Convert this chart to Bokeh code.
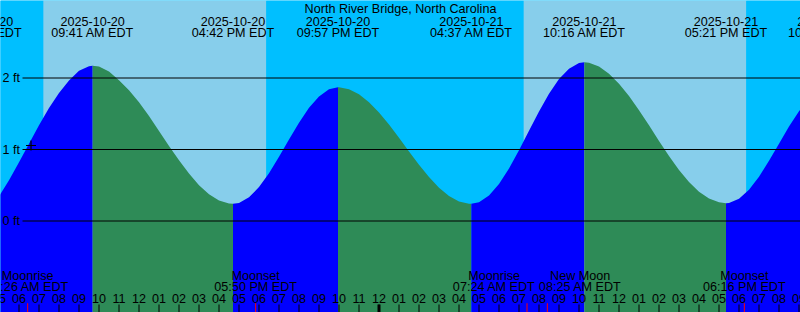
from bokeh.plotting import figure
from bokeh.models import Range1d
from bokeh.embed import file_html
from bokeh.resources import INLINE
from bokeh.core.properties import value

# ---------------- data (hours since 2025-10-20 00:00 EDT, heights in ft) ----------------
title = "North River Bridge, North Carolina"

sample_t = [5.0, 5.5, 6.0, 6.5, 7.0, 7.5, 8.0, 8.5, 9.0, 9.5, 9.683,
            10.0, 10.5, 11.0, 11.5, 12.0, 12.5, 13.0, 13.5, 14.0, 14.5, 15.0, 15.5, 16.0, 16.5, 16.7,
            17.0, 17.5, 18.0, 18.5, 19.0, 19.5, 20.0, 20.5, 21.0, 21.5, 21.95,
            22.0, 22.5, 23.0, 23.5, 24.0, 24.5, 25.0, 25.5, 26.0, 26.5, 27.0, 27.5, 28.0, 28.5, 28.617,
            29.0, 29.5, 30.0, 30.5, 31.0, 31.5, 32.0, 32.5, 33.0, 33.5, 34.0, 34.267,
            34.5, 35.0, 35.5, 36.0, 36.5, 37.0, 37.5, 38.0, 38.5, 39.0, 39.5, 40.0, 40.5, 41.0, 41.35,
            41.5, 42.0, 42.5, 43.0, 43.5, 44.0, 44.5, 45.0, 45.5]
sample_h = [0.345, 0.57, 0.82, 1.08, 1.34, 1.58, 1.79, 1.965, 2.10, 2.163, 2.17,
            2.16, 2.09, 1.97, 1.83, 1.66, 1.47, 1.26, 1.05, 0.85, 0.665, 0.50, 0.375, 0.287, 0.244, 0.24,
            0.253, 0.332, 0.474, 0.669, 0.897, 1.140, 1.375, 1.583, 1.742, 1.841, 1.87,
            1.870, 1.843, 1.772, 1.662, 1.519, 1.349, 1.164, 0.972, 0.785, 0.614, 0.465, 0.350, 0.274, 0.241, 0.24,
            0.262, 0.357, 0.519, 0.735, 0.989, 1.262, 1.533, 1.779, 1.985, 2.131, 2.209, 2.22,
            2.215, 2.16, 2.06, 1.92, 1.75, 1.55, 1.34, 1.12, 0.91, 0.715, 0.545, 0.41, 0.315, 0.262, 0.25,
            0.253, 0.312, 0.438, 0.620, 0.842, 1.082, 1.320, 1.534, 1.701]

tide_t = [4.1, 9.683, 16.7, 21.95, 28.617, 34.267, 41.35, 46.517]
tide_date = ["2025-10-20", "2025-10-20", "2025-10-20", "2025-10-20",
             "2025-10-21", "2025-10-21", "2025-10-21", "2025-10-21"]
tide_time = ["04:06 AM EDT", "09:41 AM EDT", "04:42 PM EDT", "09:57 PM EDT",
             "04:37 AM EDT", "10:16 AM EDT", "05:21 PM EDT", "10:31 PM EDT"]

moon_t = [6.433, 17.833, 31.4, 32.417, 42.267]
moon_name = ["Moonrise", "Moonset", "Moonrise", "New Moon", "Moonset"]
moon_time = ["06:26 AM EDT", "05:50 PM EDT", "07:24 AM EDT", "08:25 AM EDT", "06:16 PM EDT"]

sunrise_t = [7.217, 31.233]
sunset_t = [18.367, 42.367]

levels = [0, 1, 2]
level_labels = ["0 ft", "1 ft", "2 ft"]

hour_t = list(range(5, 46))
hour_labels = ["05", "06", "07", "08", "09", "10", "11", "12", "01", "02", "03", "04",
               "05", "06", "07", "08", "09", "10", "11", "12", "01", "02", "03", "04",
               "05", "06", "07", "08", "09", "10", "11", "12", "01", "02", "03", "04",
               "05", "06", "07", "08", "09"]
midnight_t = [24]

now_t = [6.6]
now_h = [1.056]

# ---------------- layout helpers ----------------
W, H = 800, 312
PX_PER_H = 20.0
T0 = 5.075
Y0 = 220.5
PX_PER_FT = 71.5
T1 = T0 + W / PX_PER_H
YTOP = Y0 / PX_PER_FT
YBOT = (Y0 - H) / PX_PER_FT
LABEL_W = 86.0  # approximate pixel width of a "HH:MM AM EDT" label
TXT_DY = -3.5   # correction for text baseline placement


def ypix(p):
    return (Y0 - p) / PX_PER_FT


def xpix(p):
    return T0 + p / PX_PER_H


def tpix(p):
    return ypix(p + TXT_DY)


# spread moon labels that would overlap (as the reference does)
moon_label_t = list(moon_t)
for i in range(len(moon_label_t) - 1):
    gap_px = (moon_label_t[i + 1] - moon_label_t[i]) * PX_PER_H
    if gap_px < LABEL_W:
        shift = (LABEL_W - gap_px) / 2 / PX_PER_H
        moon_label_t[i] -= shift
        moon_label_t[i + 1] += shift

NIGHT = "#00BFFF"
DAY = "#87CEEB"
RISE = "#0000FF"
FALL = "#2E8B57"
FONT = value("Liberation Sans")
FS = "12.6px"

p = figure(width=W, height=H, x_range=Range1d(T0, T1), y_range=Range1d(YBOT, YTOP),
           x_axis_type=None, y_axis_type=None, toolbar_location=None,
           output_backend="svg", min_border=0)
p.grid.visible = False
p.outline_line_color = None
p.background_fill_color = NIGHT
p.border_fill_color = NIGHT

# day / night background
edges = [T0 - 1] + sorted(sunrise_t + sunset_t) + [T1 + 1]
lefts, rights, cols = [], [], []
for i in range(len(edges) - 1):
    lefts.append(edges[i])
    rights.append(edges[i + 1])
    cols.append(NIGHT if i % 2 == 0 else DAY)
p.quad(left=lefts, right=rights, bottom=YBOT, top=YTOP, fill_color=cols, line_color=None)

# tide fills, split at extremes
bounds = [sample_t[0]] + [t for t in tide_t if sample_t[0] < t < sample_t[-1]] + [sample_t[-1]]
for a, b in zip(bounds[:-1], bounds[1:]):
    xs = [t for t in sample_t if a <= t <= b]
    ys = [h for t, h in zip(sample_t, sample_h) if a <= t <= b]
    col = RISE if ys[-1] > ys[0] else FALL
    p.varea(x=xs, y1=YBOT, y2=ys, fill_color=col)

# level lines and labels
p.segment(x0=xpix(22), y0=levels, x1=T1, y1=levels, line_color="black", line_width=1)
p.text(x=[xpix(2)] * len(levels), y=levels, text=level_labels, text_font=FONT,
       text_font_size=FS, text_baseline="middle", text_align="left", text_color="black")

# now marker
p.scatter(x=now_t, y=now_h, marker="cross", size=10, line_color="black", line_width=1.2)

# title and tide event labels
p.text(x=[(T0 + T1) / 2], y=[tpix(12)], text=[title], text_font=FONT, text_font_size=FS,
       text_align="center", text_baseline="alphabetic", text_color="black")
p.text(x=tide_t, y=[tpix(24)] * len(tide_t), text=tide_date, text_font=FONT, text_font_size=FS,
       text_align="center", text_baseline="alphabetic", text_color="black")
p.text(x=tide_t, y=[tpix(36)] * len(tide_t), text=tide_time, text_font=FONT, text_font_size=FS,
       text_align="center", text_baseline="alphabetic", text_color="black")

# moon event labels
p.text(x=moon_label_t, y=[tpix(278.5)] * len(moon_t), text=moon_name, text_font=FONT, text_font_size=FS,
       text_align="center", text_baseline="alphabetic", text_color="black")
p.text(x=moon_label_t, y=[tpix(289.5)] * len(moon_t), text=moon_time, text_font=FONT, text_font_size=FS,
       text_align="center", text_baseline="alphabetic", text_color="black")

# hour labels and ticks
p.text(x=hour_t, y=[tpix(301.7)] * len(hour_t), text=hour_labels, text_font=FONT, text_font_size=FS,
       text_align="center", text_baseline="alphabetic", text_color="black")
p.segment(x0=hour_t, y0=ypix(304), x1=hour_t, y1=ypix(312), line_color="black", line_width=1)
p.segment(x0=midnight_t, y0=ypix(304), x1=midnight_t, y1=ypix(312), line_color="black", line_width=3)
p.segment(x0=moon_t, y0=ypix(302.7), x1=moon_t, y1=ypix(312), line_color="red", line_width=1)

open("out.html", "w").write(file_html(p, INLINE))
